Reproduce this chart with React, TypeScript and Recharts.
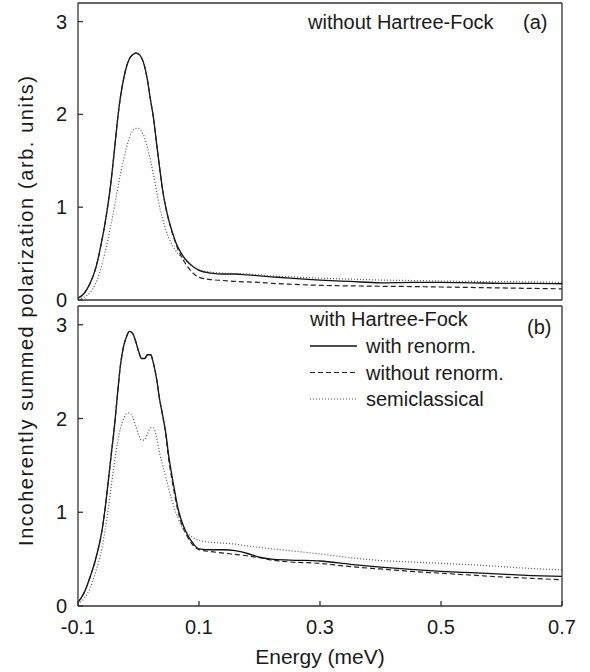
import React from 'react';
import { LineChart, Line, XAxis, YAxis, Legend, Label } from 'recharts';

// Energy grid (meV)
const energy = [
  -0.1, -0.09, -0.08, -0.07, -0.06, -0.055, -0.05, -0.045, -0.04, -0.035,
  -0.03, -0.025, -0.02, -0.015, -0.01, -0.005, 0, 0.005, 0.01, 0.015,
  0.02, 0.025, 0.03, 0.035, 0.04, 0.045, 0.05, 0.055, 0.06, 0.065,
  0.07, 0.08, 0.09, 0.1, 0.12, 0.14, 0.16, 0.18, 0.2, 0.22,
  0.25, 0.3, 0.35, 0.4, 0.45, 0.5, 0.55, 0.6, 0.65, 0.7,
];

// Panel (a): without Hartree-Fock
const aWithRenorm = [
  0.02, 0.07, 0.18, 0.36, 0.66, 0.84, 1.05, 1.3, 1.6, 1.92,
  2.18, 2.37, 2.51, 2.6, 2.64, 2.66, 2.65, 2.61, 2.52, 2.36,
  2.15, 1.95, 1.68, 1.42, 1.18, 1.0, 0.86, 0.75, 0.65, 0.57,
  0.51, 0.42, 0.36, 0.32, 0.29, 0.28, 0.28, 0.27, 0.26, 0.25,
  0.235, 0.215, 0.2, 0.185, 0.19, 0.19, 0.185, 0.18, 0.18, 0.175,
];
const aWithoutRenorm = [
  0.02, 0.07, 0.18, 0.36, 0.66, 0.84, 1.05, 1.3, 1.6, 1.92,
  2.18, 2.37, 2.51, 2.6, 2.64, 2.66, 2.65, 2.61, 2.52, 2.36,
  2.15, 1.95, 1.68, 1.42, 1.18, 1.0, 0.86, 0.74, 0.64, 0.55,
  0.48, 0.37, 0.29, 0.245, 0.22, 0.21, 0.2, 0.195, 0.19, 0.18,
  0.17, 0.158, 0.152, 0.148, 0.145, 0.14, 0.135, 0.13, 0.125, 0.12,
];
const aSemiclassical = [
  0.01, 0.03, 0.08, 0.19, 0.39, 0.52, 0.67, 0.83, 1.0, 1.18,
  1.35, 1.5, 1.64, 1.75, 1.82, 1.85, 1.85, 1.82, 1.75, 1.64,
  1.5, 1.34, 1.17, 1.0, 0.87, 0.76, 0.67, 0.6, 0.55, 0.5,
  0.47, 0.41, 0.36, 0.33, 0.3, 0.29, 0.285, 0.28, 0.27, 0.26,
  0.25, 0.235, 0.225, 0.215, 0.21, 0.205, 0.2, 0.198, 0.195, 0.19,
];

// Panel (b): with Hartree-Fock
const bWithRenorm = [
  0.04, 0.14, 0.31, 0.52, 0.82, 1.05, 1.33, 1.62, 1.9, 2.24,
  2.56, 2.76, 2.87, 2.93, 2.91, 2.83, 2.72, 2.64, 2.64, 2.68,
  2.68, 2.58, 2.42, 2.2, 2.03, 1.85, 1.6, 1.4, 1.22, 1.05,
  0.93, 0.77, 0.67, 0.61, 0.6, 0.6, 0.59, 0.56, 0.52, 0.5,
  0.49, 0.48, 0.445, 0.415, 0.39, 0.37, 0.355, 0.34, 0.325, 0.315,
];
const bWithoutRenorm = [
  0.04, 0.14, 0.31, 0.52, 0.82, 1.05, 1.33, 1.62, 1.9, 2.24,
  2.56, 2.76, 2.87, 2.93, 2.91, 2.83, 2.72, 2.64, 2.64, 2.68,
  2.68, 2.58, 2.42, 2.2, 2.03, 1.83, 1.56, 1.36, 1.18, 1.02,
  0.9, 0.75, 0.65, 0.6, 0.58, 0.565, 0.55, 0.535, 0.515, 0.49,
  0.47, 0.455, 0.42, 0.395, 0.37, 0.35, 0.33, 0.31, 0.295, 0.28,
];
const bSemiclassical = [
  0.02, 0.08, 0.19, 0.38, 0.63, 0.82, 1.04, 1.28, 1.52, 1.73,
  1.89, 1.99, 2.05, 2.06, 2.02, 1.93, 1.83, 1.77, 1.77, 1.84,
  1.9, 1.9, 1.79, 1.63, 1.5, 1.38, 1.25, 1.13, 1.03, 0.94,
  0.87, 0.78, 0.73, 0.7, 0.68, 0.67, 0.66, 0.64, 0.625, 0.61,
  0.59, 0.555, 0.515, 0.485, 0.47, 0.455, 0.44, 0.42, 0.4, 0.385,
];

const xTicks = [-0.1, 0.1, 0.3, 0.5, 0.7];
const yTicks = [0, 1, 2, 3];
const seriesNames = ['with renorm.', 'without renorm.', 'semiclassical'];
const panelATitle = 'without Hartree-Fock';
const panelBTitle = 'with Hartree-Fock';
const xTitle = 'Energy (meV)';
const yTitle = 'Incoherently summed polarization (arb. units)';

const FONT = '"Liberation Sans", Arial, Helvetica, sans-serif';
const INK = '#1a1a1a';

const SERIES = [
  { key: 'withRenorm', name: seriesNames[0], dash: undefined as string | undefined, width: 1.3, color: '#111' },
  { key: 'withoutRenorm', name: seriesNames[1], dash: '5 3', width: 1.2, color: '#222' },
  { key: 'semiclassical', name: seriesNames[2], dash: '1 2', width: 1.2, color: '#555' },
];

function buildRows(a: number[], b: number[], c: number[]) {
  return energy.map((e, i) => ({ e, withRenorm: a[i], withoutRenorm: b[i], semiclassical: c[i] }));
}

const dataA = buildRows(aWithRenorm, aWithoutRenorm, aSemiclassical);
const dataB = buildRows(bWithRenorm, bWithoutRenorm, bSemiclassical);

const fmtX = (v: number) => (v === 0 ? '0' : String(v));

const axisStroke = { stroke: '#333', strokeWidth: 1.3 };

function LegendBox() {
  return (
    <svg width={260} height={100} style={{ overflow: 'visible', display: 'block' }}>
      <text x={5} y={20} fontSize={20} fontFamily={FONT} fill={INK}>{panelBTitle}</text>
      {SERIES.map((s, i) => (
        <g key={s.key}>
          <line x1={5} x2={52} y1={40 + i * 26.5} y2={40 + i * 26.5} stroke={s.color}
            strokeWidth={s.width} strokeDasharray={s.dash} />
          <text x={61} y={47 + i * 26.5} fontSize={20} fontFamily={FONT} fill={INK}>{s.name}</text>
        </g>
      ))}
    </svg>
  );
}

function Panel(props: {
  data: any[];
  height: number;
  margin: { top: number; right: number; bottom: number; left: number };
  bottomHeight: number;
  showX: boolean;
  legend?: boolean;
}) {
  const { data, height, margin, bottomHeight, showX, legend } = props;
  return (
    <LineChart width={590} height={height} data={data} margin={margin}>
      <XAxis xAxisId="b" dataKey="e" type="number" domain={[-0.1, 0.7]} ticks={xTicks}
        allowDataOverflow orientation="bottom" height={bottomHeight} interval={0}
        tickSize={-5} tickMargin={19} tickFormatter={fmtX}
        tick={showX ? { fontSize: 20, fontFamily: FONT, fill: INK } : false}
        axisLine={axisStroke} tickLine={axisStroke}>
        {showX ? (
          <Label value={xTitle} position="bottom" offset={3}
            style={{ fontSize: 21, fontFamily: FONT, fill: INK }} />
        ) : null}
      </XAxis>
      <XAxis xAxisId="t" dataKey="e" type="number" domain={[-0.1, 0.7]} ticks={xTicks}
        allowDataOverflow orientation="top" height={1} interval={0} tickSize={-5}
        tick={false} axisLine={axisStroke} tickLine={axisStroke} />
      <YAxis yAxisId="l" type="number" domain={[0, 3.2]} ticks={yTicks} allowDataOverflow
        width={78} interval={0} tickSize={-5} tickMargin={16}
        tick={{ fontSize: 20, fontFamily: FONT, fill: INK }}
        axisLine={axisStroke} tickLine={axisStroke} />
      <YAxis yAxisId="r" orientation="right" type="number" domain={[0, 3.2]} ticks={yTicks}
        allowDataOverflow width={1} interval={0} tickSize={-5} tick={false}
        axisLine={axisStroke} tickLine={axisStroke} />
      {legend ? (
        <Legend verticalAlign="middle" align="center" layout="horizontal"
          wrapperStyle={{ left: 305, top: 6, width: 260 }}
          content={() => <LegendBox />} />
      ) : null}
      {SERIES.map((s) => (
        <Line key={s.key} xAxisId="b" yAxisId="l" type="monotone" dataKey={s.key} name={s.name}
          stroke={s.color} strokeWidth={s.width} strokeDasharray={s.dash}
          dot={false} activeDot={false} isAnimationActive={false} legendType="line" />
      ))}
    </LineChart>
  );
}

export default function App() {
  return (
    <div style={{ position: 'absolute', left: 0, top: 0, width: 590, height: 672, background: '#fff', fontFamily: FONT }}>
      <div style={{ position: 'absolute', left: 0, top: 0 }}>
        <Panel data={dataA} height={316} margin={{ top: 2, right: 27, bottom: 15, left: 0 }}
          bottomHeight={1} showX={false} />
      </div>
      <div style={{ position: 'absolute', left: 0, top: 300 }}>
        <Panel data={dataB} height={372} margin={{ top: 5, right: 27, bottom: 26, left: 0 }}
          bottomHeight={40} showX={true} legend />
      </div>
      <svg width={590} height={672} style={{ position: 'absolute', left: 0, top: 0, pointerEvents: 'none' }}>
        <text x={33} y={311} transform="rotate(-90 33 311)" textAnchor="middle" fontSize={20}
          textLength={470} lengthAdjust="spacing"
          fontFamily={FONT} fill={INK}>{yTitle}</text>
        <text x={308} y={29} fontSize={20} fontFamily={FONT} fill={INK}>{panelATitle}</text>
        <text x={523} y={29} fontSize={20} fontFamily={FONT} fill={INK}>(a)</text>
        <text x={527} y={334} fontSize={20} fontFamily={FONT} fill={INK}>(b)</text>
      </svg>
    </div>
  );
}
